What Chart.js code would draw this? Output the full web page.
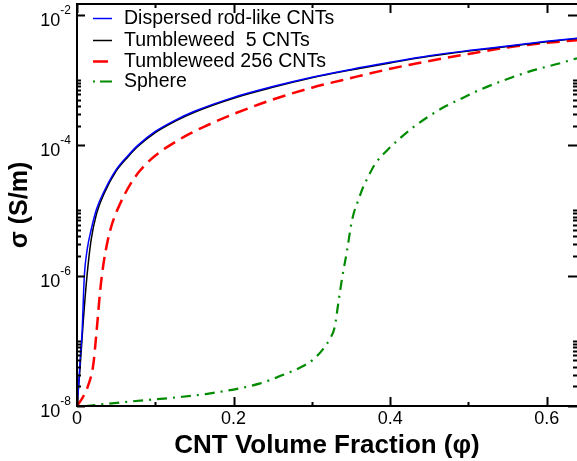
<!DOCTYPE html>
<html>
<head>
<meta charset="utf-8">
<script src="https://cdn.jsdelivr.net/npm/chart.js@4.4.1/dist/chart.umd.min.js"></script>
<style>
  body { margin: 0; background: #fff; }
  #wrap { width: 577px; height: 461px; position: relative; }
</style>
</head>
<body>
<div id="wrap"><canvas id="chart"></canvas></div>
<script>
// values (phi = CNT volume fraction, sigma in S/m)
var phiDispersed = [0, 0.002, 0.0045, 0.0064, 0.0094, 0.013, 0.018, 0.025, 0.035, 0.05, 0.065, 0.078, 0.1, 0.125, 0.15, 0.2, 0.25, 0.3, 0.35, 0.4, 0.45, 0.5, 0.55, 0.6, 0.6386];
var sigDispersed = [1e-8, 2.0e-8, 6.3e-8, 1.3e-7, 1.0e-6, 2.5e-6, 5.0e-6, 1.05e-5, 2.0e-5, 4.2e-5, 6.9e-5, 1.0e-4, 1.62e-4, 2.4e-4, 3.3e-4, 5.4e-4, 7.9e-4, 1.1e-3, 1.45e-3, 1.86e-3, 2.35e-3, 2.82e-3, 3.3e-3, 3.9e-3, 4.35e-3];

var phiTumble5 = [0, 0.004, 0.008, 0.0128, 0.018, 0.025, 0.035, 0.05, 0.065, 0.078, 0.1, 0.125, 0.15, 0.2, 0.25, 0.3, 0.35, 0.4, 0.45, 0.5, 0.55, 0.6, 0.6386];
var sigTumble5 = [1e-8, 4.0e-8, 2.0e-7, 1.0e-6, 3.5e-6, 8.9e-6, 1.85e-5, 4.0e-5, 6.6e-5, 9.6e-5, 1.56e-4, 2.32e-4, 3.2e-4, 5.25e-4, 7.7e-4, 1.08e-3, 1.42e-3, 1.82e-3, 2.3e-3, 2.77e-3, 3.25e-3, 3.85e-3, 4.3e-3];

var phiTumble256 = [0, 0.008, 0.0145, 0.0208, 0.0246, 0.0297, 0.0336, 0.0387, 0.045, 0.055, 0.068, 0.08, 0.094, 0.11, 0.119, 0.14, 0.16, 0.2, 0.25, 0.3, 0.35, 0.4, 0.45, 0.5, 0.55, 0.6, 0.6386];
var sigTumble256 = [1e-8, 1.4e-8, 2.1e-8, 4.3e-8, 1.23e-7, 6.0e-7, 1.45e-6, 3.2e-6, 6.3e-6, 1.26e-5, 2.5e-5, 4.0e-5, 6.0e-5, 8.5e-5, 1.0e-4, 1.41e-4, 1.86e-4, 3.0e-4, 5.0e-4, 7.6e-4, 1.07e-3, 1.48e-3, 1.95e-3, 2.5e-3, 3.15e-3, 3.7e-3, 4.07e-3];

var phiSphere = [0.0107, 0.064, 0.128, 0.170, 0.234, 0.260, 0.289, 0.302, 0.314, 0.3235, 0.329, 0.334, 0.339, 0.345, 0.350, 0.354, 0.359, 0.365, 0.372, 0.381, 0.396, 0.41, 0.43, 0.45, 0.47, 0.49, 0.515, 0.556, 0.587, 0.617, 0.6386];
var sigSphere = [1.0e-8, 1.16e-8, 1.36e-8, 1.56e-8, 2.22e-8, 2.9e-8, 4.1e-8, 5.2e-8, 7.4e-8, 1.1e-7, 1.6e-7, 4.0e-7, 9.8e-7, 2.45e-6, 5.9e-6, 9.5e-6, 1.4e-5, 2.2e-5, 3.3e-5, 5.2e-5, 8.3e-5, 1.2e-4, 1.9e-4, 2.8e-4, 3.9e-4, 5.1e-4, 7.1e-4, 1.1e-3, 1.45e-3, 1.8e-3, 2.15e-3];

var seriesNames = ['Dispersed rod-like CNTs', 'Tumbleweed  5 CNTs', 'Tumbleweed 256 CNTs', 'Sphere'];
var xTicks = [0, 0.1, 0.2, 0.3, 0.4, 0.5, 0.6];
var xLabelled = [0, 0.2, 0.4, 0.6];
var yMajorExp = [-2, -4, -6, -8];
var yMinorDecades = [-8, -6, -4];   // decades that carry 2..10 minor ticks

var FONT = "'Liberation Sans', Arial, sans-serif";

function toPoints(xs, ys) {
    return xs.map(function(x, i) { return {x: x, y: ys[i]}; });
}

// frame, inward ticks, superscript y labels and the in-plot legend
var framePlugin = {
    id: 'frame',
    afterDatasetsDraw: function(chart) {
        var ctx = chart.ctx;
        var a = chart.chartArea;
        var xs = chart.scales.x, ys = chart.scales.y;
        ctx.save();
        ctx.strokeStyle = '#000';
        ctx.lineWidth = 2;
        ctx.beginPath();
        ctx.moveTo(a.left, a.top); ctx.lineTo(a.left, a.bottom);
        ctx.moveTo(a.left - 1, a.bottom); ctx.lineTo(a.right + 2, a.bottom);
        ctx.moveTo(a.left - 1, a.top); ctx.lineTo(a.right + 2, a.top);
        ctx.moveTo(a.right + 1, a.top); ctx.lineTo(a.right + 1, a.bottom);
        ctx.stroke();

        // x ticks, bottom and top
        xTicks.forEach(function(v) {
            var px = Math.round(xs.getPixelForValue(v)) + 0.5;
            var len = xLabelled.indexOf(v) >= 0 ? 9 : 4;
            ctx.beginPath();
            ctx.moveTo(px, a.bottom); ctx.lineTo(px, a.bottom - len);
            ctx.moveTo(px, a.top); ctx.lineTo(px, a.top + len);
            ctx.stroke();
        });

        // y ticks, left and right
        var rx = a.right;
        yMajorExp.forEach(function(e) {
            var py = Math.round(ys.getPixelForValue(Math.pow(10, e))) + 0.5;
            ctx.beginPath();
            ctx.moveTo(a.left, py); ctx.lineTo(a.left + 8, py);
            ctx.moveTo(rx, py); ctx.lineTo(rx - 9, py);
            ctx.stroke();
        });
        yMinorDecades.forEach(function(e) {
            for (var k = 2; k <= 10; k++) {
                var py = Math.round(ys.getPixelForValue(k * Math.pow(10, e))) + 0.5;
                ctx.beginPath();
                ctx.moveTo(a.left, py); ctx.lineTo(a.left + 4, py);
                ctx.moveTo(rx, py); ctx.lineTo(rx - 4, py);
                ctx.stroke();
            }
        });

        // y tick labels as 10^n
        ctx.fillStyle = '#000';
        ctx.textBaseline = 'alphabetic';
        yMajorExp.forEach(function(e) {
            var py = ys.getPixelForValue(Math.pow(10, e));
            var expTxt = '-' + Math.abs(e);
            ctx.font = '12px ' + FONT;
            var ew = ctx.measureText(expTxt).width;
            ctx.textAlign = 'left';
            ctx.fillText(expTxt, 71 - ew, py - 1);
            ctx.font = '18px ' + FONT;
            ctx.textAlign = 'right';
            ctx.fillText('10', 71 - ew, py + 11);
        });

        // legend
        var rows = [18, 40, 61, 81];
        chart.data.datasets.forEach(function(ds, i) {
            var y = rows[i] + 0.5;
            ctx.save();
            ctx.strokeStyle = ds.borderColor;
            ctx.lineWidth = ds.borderWidth;
            ctx.beginPath();
            if (i === 3) {
                ctx.moveTo(93, y); ctx.lineTo(95, y);
                ctx.moveTo(100, y); ctx.lineTo(112, y);
            } else if (i === 2) {
                ctx.moveTo(93, y); ctx.lineTo(108, y);
            } else {
                ctx.moveTo(93, y); ctx.lineTo(112, y);
            }
            ctx.stroke();
            ctx.restore();
            ctx.font = '19.5px ' + FONT;
            ctx.textAlign = 'left';
            ctx.fillText(ds.label, 124, rows[i] + 6);
        });
        ctx.restore();
    }
};

var config = {
    type: 'line',
    data: {
        datasets: [{
            label: seriesNames[0],
            data: toPoints(phiDispersed, sigDispersed),
            borderColor: '#0000ff',
            borderWidth: 1.5
        }, {
            label: seriesNames[1],
            data: toPoints(phiTumble5, sigTumble5),
            borderColor: '#000000',
            borderWidth: 1.5
        }, {
            label: seriesNames[2],
            data: toPoints(phiTumble256, sigTumble256),
            borderColor: '#ff0000',
            borderWidth: 2.5,
            borderDash: [13, 7]
        }, {
            label: seriesNames[3],
            data: toPoints(phiSphere, sigSphere),
            borderColor: '#008b00',
            borderWidth: 2.2,
            borderDash: [10, 6, 2, 6]
        }]
    },
    options: {
        responsive: true,
        maintainAspectRatio: false,
        animation: false,
        layout: { padding: { top: 4, right: 0, bottom: 0, left: 0 } },
        elements: {
            point: { radius: 0 },
            line: { cubicInterpolationMode: 'monotone', fill: false }
        },
        plugins: {
            legend: { display: false },
            tooltip: { enabled: false }
        },
        scales: {
            x: {
                type: 'linear',
                min: 0,
                max: 0.6386,
                afterFit: function(scale) { scale.height = 55; },
                afterBuildTicks: function(scale) {
                    scale.ticks = xLabelled.map(function(v) { return {value: v}; });
                },
                grid: { display: false, drawTicks: false },
                border: { display: false },
                ticks: {
                    padding: 2,
                    color: '#000',
                    font: { family: FONT, size: 18 },
                    maxRotation: 0,
                    callback: function(v) { return v === 0 ? '0' : v.toFixed(1); }
                },
                title: {
                    display: true,
                    text: 'CNT Volume Fraction (\u03c6)',
                    color: '#000',
                    font: { family: FONT, size: 26, weight: 'bold' },
                    padding: { top: 7, bottom: 0 }
                }
            },
            y: {
                type: 'logarithmic',
                min: 1e-8,
                max: 0.01459,
                afterFit: function(scale) { scale.width = 77; },
                grid: { display: false, drawTicks: false },
                border: { display: false },
                ticks: { display: false },
                title: {
                    display: true,
                    text: '\u03c3 (S/m)',
                    color: '#000',
                    font: { family: FONT, size: 25, weight: 'bold' },
                    padding: { top: 5, bottom: 0 }
                }
            }
        }
    },
    plugins: [framePlugin]
};

var ctx = document.getElementById('chart').getContext('2d');
window.condChart = new Chart(ctx, config);
</script>
</body>
</html>
